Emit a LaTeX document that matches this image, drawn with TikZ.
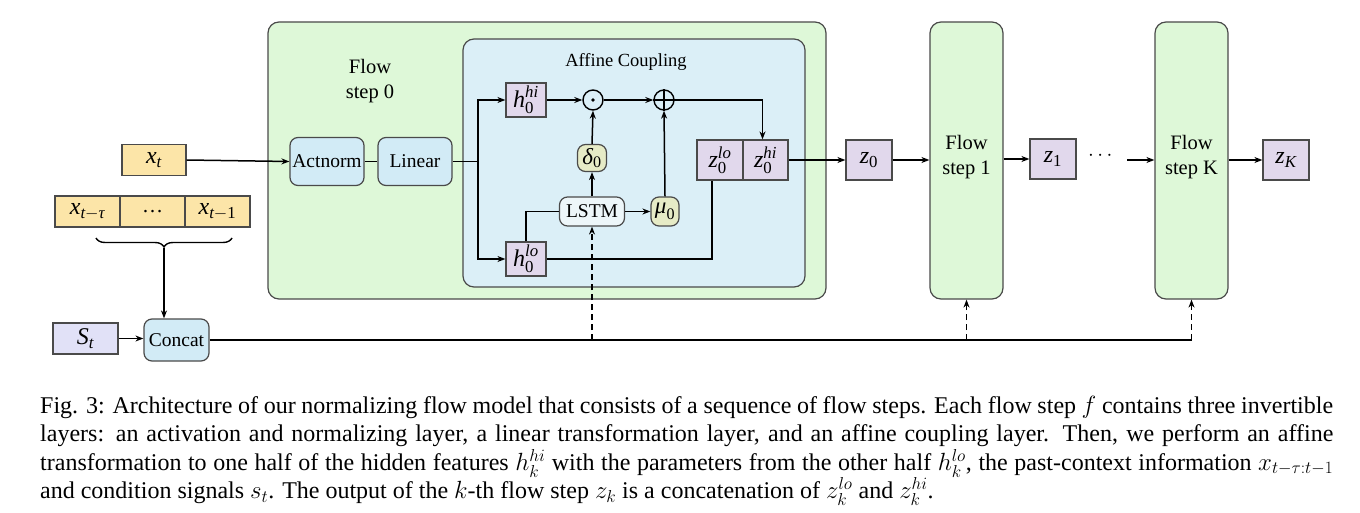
\documentclass[tikz,border=0pt]{standalone}
\usepackage{amsmath}
\usepackage{fontspec}
\setmainfont{Liberation Serif}
\usetikzlibrary{arrows.meta,decorations.pathreplacing,calc}
\definecolor{orangef}{HTML}{FCE5A8}
\definecolor{lavf}{HTML}{E1D8EC}
\definecolor{stf}{HTML}{E1E1F7}
\definecolor{greenf}{HTML}{DEF8D8}
\definecolor{bluef}{HTML}{D2EBF6}
\definecolor{afff}{HTML}{DBEFF7}
\definecolor{olivef}{HTML}{E6EBC6}
\definecolor{lstmf}{HTML}{EDF6F9}
\definecolor{bord}{HTML}{4A4A4A}
\newcommand\vb[2]{$\text{\itshape #1}_{\text{#2}}$}
\newcommand\vbs[3]{$\text{\itshape #1}_{\text{#2}}^{\text{\itshape #3}}$}
\tikzset{
  sq/.style={draw=bord, line width=1.2pt, inner sep=0pt, font=\fontsize{24}{26}\selectfont},
  rb/.style={draw=bord, line width=1.2pt, rounded corners=8pt, inner sep=0pt, font=\fontsize{19.5}{22}\selectfont},
  big/.style={draw=bord, line width=1.2pt, rounded corners=11pt, fill=greenf, inner sep=0pt},
  conn/.style={line width=1.5pt, draw=black},
  arr/.style={conn, -{Stealth[length=8pt,width=6pt]}},
  darr/.style={arr, dash pattern=on 6pt off 4pt},
  op/.style={draw=black, line width=1.4pt, circle, minimum size=20pt, inner sep=0pt},
  lbl/.style={font=\fontsize{20.5}{25.5}\selectfont, align=center, inner sep=0pt}
}
\begin{document}
\begin{tikzpicture}[x=1pt,y=-1pt]
\useasboundingbox (0,0) rectangle (1360,513);
% big boxes
\draw[big] (268,22) rectangle (826,299);
\node[lbl] (f0lab) at (370,81) {Flow\\step 0};
\draw[draw=bord, line width=1.2pt, rounded corners=11pt, fill=afff] (463,39) rectangle (805,287);
\node[font=\fontsize{18.5}{22}\selectfont, inner sep=0pt] (aclab) at (626,62) {Affine Coupling};
\node[big, minimum width=73pt, minimum height=277pt] (flow1) at (966.5,160.5) {};
\node[lbl] (f1lab) at (966.5,157) {Flow\\step 1};
\node[big, minimum width=73pt, minimum height=277pt] (flowK) at (1191.5,160.5) {};
\node[lbl] (fKlab) at (1191.5,157) {Flow\\step K};
% inputs
\node[sq, fill=orangef, minimum width=64pt, minimum height=31pt] (xt) at (154,160) {\vb{x}{\itshape t}};
\node[sq, fill=orangef, minimum width=65pt, minimum height=31pt] (p1) at (87.5,211.5) {$\text{\itshape x}_{\text{\itshape t}-\text{\itshape τ}}$};
\node[sq, fill=orangef, minimum width=65pt, minimum height=31pt, font=\fontsize{21}{24}\selectfont] (p2) at (152.5,211.5) {\dots};
\node[sq, fill=orangef, minimum width=65pt, minimum height=31pt] (p3) at (217.5,211.5) {$\text{\itshape x}_{\text{\itshape t}-\text{1}}$};
\node[sq, fill=stf, minimum width=65pt, minimum height=31pt] (st) at (85.5,338.5) {\vb{S}{\itshape t}};
\node[rb, fill=bluef, minimum width=65pt, minimum height=42pt] (concat) at (176.5,340) {Concat};
\draw[decorate, decoration={brace, mirror, amplitude=9pt}, line width=1.4pt] (96,238) -- (232,238);
\coordinate (bt) at (164,248);
% flow step 0 inner
\node[rb, fill=bluef, minimum width=74pt, minimum height=48pt] (act) at (327,161.5) {Actnorm};
\node[rb, fill=bluef, minimum width=74pt, minimum height=48pt] (lin) at (415,161.5) {Linear};
\coordinate (j) at (478,161.5);
\node[sq, fill=lavf, minimum width=40pt, minimum height=34pt] (hhi) at (526,100) {\vbs{h}{0}{hi}};
\node[sq, fill=lavf, minimum width=40pt, minimum height=34pt] (hlo) at (526,259) {\vbs{h}{0}{lo}};
\node[op] (odot) at (593,100) {};
\fill (odot.center) circle (1.8pt);
\node[op] (oplus) at (664,100) {};
\draw[line width=1.4pt] (oplus.north) -- (oplus.south) (oplus.west) -- (oplus.east);
\node[rb, fill=olivef, minimum width=29pt, minimum height=27pt, font=\fontsize{23}{25}\selectfont] (delta) at (592,158) {\vb{δ}{0}};
\node[rb, fill=lstmf, minimum width=65pt, minimum height=29pt] (lstm) at (592,211.5) {LSTM};
\node[rb, fill=olivef, minimum width=28pt, minimum height=29pt, font=\fontsize{23}{25}\selectfont] (mu) at (665,211.5) {\vb{μ}{0}};
\node[sq, fill=lavf, minimum width=46pt, minimum height=40pt] (zlo) at (720,160) {\vbs{z}{0}{lo}};
\node[sq, fill=lavf, minimum width=45pt, minimum height=40pt] (zhi) at (765.5,160) {\vbs{z}{0}{hi}};
% outputs
\node[sq, fill=lavf, minimum width=46pt, minimum height=40pt] (z0) at (869,160) {\vb{z}{0}};
\node[sq, fill=lavf, minimum width=46pt, minimum height=40pt] (z1) at (1053,159) {\vb{z}{1}};
\node[font=\fontsize{20}{22}\selectfont, inner sep=0pt] (dots) at (1102,156) {$\cdots$};
\coordinate (dk) at (1127,160);
\node[sq, fill=lavf, minimum width=46pt, minimum height=40pt] (zK) at (1286,160) {\vb{z}{\itshape K}};
% connectors
\draw[arr] (xt.east) -- (act.west);
\draw[conn] (act.east) -- (lin.west);
\draw[conn] (lin.east) -- (j);
\draw[arr] (j) |- (hhi.west);
\draw[arr] (j) |- (hlo.west);
\draw[arr] (hhi.east) -- (odot.west);
\draw[arr] (odot.east) -- (oplus.west);
\draw[arr] (delta.north) -- (odot.south);
\draw[arr] (lstm.north) -- (delta.south);
\draw[arr] (lstm.east) -- (mu.west);
\draw[arr] (mu.north) -- (oplus.south);
\draw[conn] (hlo.north) |- (lstm.west);
\draw[arr] (oplus.east) -| ([xshift=-3pt]zhi.north);
\draw[conn] (hlo.east) -| ([xshift=-8pt]zlo.south);
\draw[arr] (zhi.east) -- (z0.west);
\draw[arr] (z0.east) -- (flow1.west |- z0.east);
\draw[arr] (flow1.east |- z1.west) -- (z1.west);
\draw[arr] (dk) -- (flowK.west |- dk);
\draw[arr] (flowK.east |- zK.west) -- (zK.west);
\draw[arr] (bt) -- (bt |- concat.north);
\draw[arr] (st.east) -- (concat.west |- st.east);
\draw[conn] (concat.east) -- (flowK.south |- concat.east);
\draw[darr] (lstm.south |- concat.east) -- (lstm.south);
\draw[darr] (flow1.south |- concat.east) -- (flow1.south);
\draw[darr] (flowK.south |- concat.east) -- (flowK.south);
% caption
\node[anchor=north west, text width=1293pt, align=justify, inner sep=0pt, font=\fontsize{24}{28.3}\selectfont] (cap) at (40,396) {Fig. 3: Architecture of our normalizing flow model that consists of a sequence of flow steps. Each flow step $f$ contains three invertible\linebreak
layers: an activation and normalizing layer, a linear transformation layer, and an affine coupling layer. Then, we perform an affine\linebreak
transformation to one half of the hidden features $h_k^{hi}$ with the parameters from the other half $h_k^{lo}$, the past-context information $x_{t-\tau:t-1}$\linebreak
and condition signals $s_t$. The output of the $k$-th flow step $z_k$ is a concatenation of $z_k^{lo}$ and $z_k^{hi}$.};
\end{tikzpicture}
\end{document}
